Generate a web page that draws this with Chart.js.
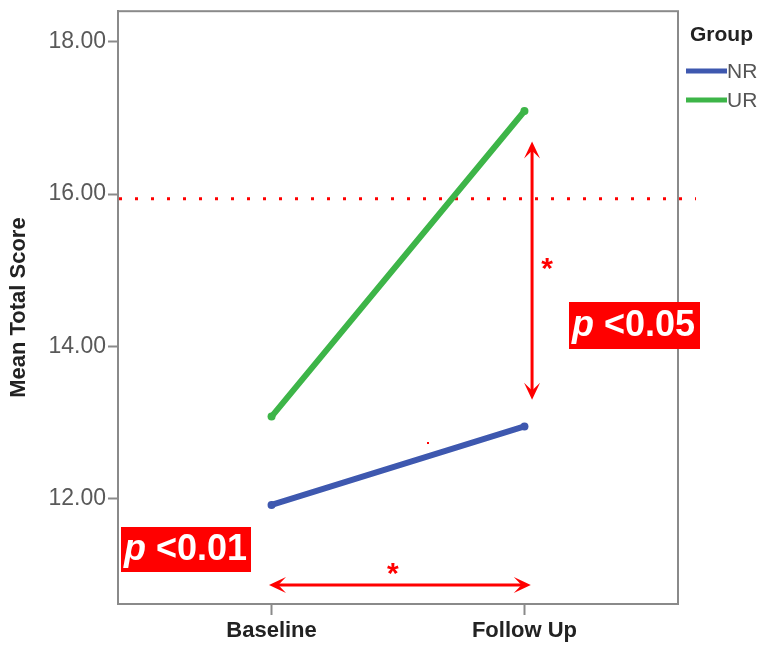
<!DOCTYPE html>
<html>
<head>
<meta charset="utf-8">
<script src="https://cdn.jsdelivr.net/npm/chart.js@4"></script>
<style>
  html, body { margin: 0; padding: 0; background: #fff; }
  canvas { display: block; }
</style>
</head>
<body>
<canvas id="chart" width="764" height="647"></canvas>
<script>
// data
const timepoints = ['Baseline', 'Follow Up']
const groups = ['NR', 'UR']
const nr_values = [11.92, 12.95]
const ur_values = [13.08, 17.09]
const y_ticks = [12, 14, 16, 18]
const cutoff = 15.94

const colors = {NR: 'rgb(62,88,175)', UR: 'rgb(61,181,72)'}
const FONT = '"Liberation Sans", Arial, sans-serif'

function toPoints(vals) {
    return vals.map((v, i) => ({x: i, y: v}))
}

function arrowHead(ctx, x, y, dx, dy) {
    // tip at (x,y), pointing in direction (dx,dy)
    const len = 17, half = 8
    const bx = x - dx*len, by = y - dy*len
    ctx.beginPath()
    ctx.moveTo(x, y)
    ctx.lineTo(bx - dy*half, by + dx*half)
    ctx.lineTo(x - dx*len*0.55, y - dy*len*0.55)
    ctx.lineTo(bx + dy*half, by - dx*half)
    ctx.closePath()
    ctx.fill()
}

function pBox(ctx, x, y, w, h, txt) {
    ctx.fillStyle = 'rgb(255,0,0)'
    ctx.fillRect(x, y, w, h)
    ctx.fillStyle = '#fff'
    ctx.textBaseline = 'middle'
    ctx.textAlign = 'left'
    ctx.font = 'italic bold 36px ' + FONT
    const pw = ctx.measureText('p').width
    ctx.fillText('p', x + 3, y + h/2 + 1)
    ctx.font = 'bold 36px ' + FONT
    ctx.fillText(' ' + txt, x + 3 + pw, y + h/2 + 1)
}

const extras = {
    id: 'extras',
    beforeDatasetsDraw(chart) {
        const ctx = chart.ctx
        const y = chart.scales.y
        const a = chart.chartArea
        // red dotted cut-off line
        ctx.save()
        ctx.strokeStyle = 'rgb(255,0,0)'
        ctx.lineWidth = 3
        ctx.setLineDash([3, 13])
        ctx.beginPath()
        ctx.moveTo(a.left + 1, y.getPixelForValue(cutoff))
        ctx.lineTo(a.right + 18, y.getPixelForValue(cutoff))
        ctx.stroke()
        ctx.restore()
    },
    afterDraw(chart) {
        const ctx = chart.ctx
        const x = chart.scales.x, y = chart.scales.y
        const a = chart.chartArea
        ctx.save()
        // frame
        ctx.strokeStyle = '#8a8a8a'
        ctx.lineWidth = 2
        ctx.strokeRect(a.left, a.top, a.right - a.left, a.bottom - a.top)

        // vertical arrow between groups at follow up
        ctx.strokeStyle = 'rgb(255,0,0)'
        ctx.fillStyle = 'rgb(255,0,0)'
        ctx.lineWidth = 3
        const vx = x.getPixelForValue(1.03)
        const vt = y.getPixelForValue(16.69), vb = y.getPixelForValue(13.30)
        ctx.beginPath()
        ctx.moveTo(vx, vt + 8)
        ctx.lineTo(vx, vb - 8)
        ctx.stroke()
        arrowHead(ctx, vx, vt, 0, -1)
        arrowHead(ctx, vx, vb, 0, 1)

        // horizontal arrow between timepoints
        const hy = y.getPixelForValue(10.87)
        const hl = x.getPixelForValue(-0.01), hr = x.getPixelForValue(1.025)
        ctx.beginPath()
        ctx.moveTo(hl + 8, hy)
        ctx.lineTo(hr - 8, hy)
        ctx.stroke()
        arrowHead(ctx, hl, hy, -1, 0)
        arrowHead(ctx, hr, hy, 1, 0)

        // asterisks
        ctx.font = 'bold 30px ' + FONT
        ctx.textAlign = 'center'
        ctx.textBaseline = 'middle'
        ctx.fillText('*', vx + 15, 270)
        ctx.fillText('*', x.getPixelForValue(0.48), hy - 10)

        // stray dot
        ctx.fillRect(427, 442, 2, 2)

        // p-value boxes
        pBox(ctx, 569, 302, 131, 47, '<0.05')
        pBox(ctx, 121, 527, 130, 45, '<0.01')

        // legend
        ctx.textAlign = 'left'
        ctx.textBaseline = 'middle'
        ctx.fillStyle = '#222'
        ctx.font = 'bold 21px ' + FONT
        ctx.fillText('Group', 690, 35)
        groups.forEach((g, i) => {
            const ly = 71 + i*29
            ctx.strokeStyle = colors[g]
            ctx.lineWidth = 5
            ctx.beginPath()
            ctx.moveTo(686, ly)
            ctx.lineTo(727, ly)
            ctx.stroke()
            ctx.fillStyle = '#555'
            ctx.font = '21px ' + FONT
            ctx.fillText(g, 727, ly + 1)
        })
        ctx.restore()
    }
}

const ctx = document.getElementById('chart').getContext('2d')
const chart = new Chart(ctx, {
    type: 'line',
    data: {
        datasets: [
            {label: 'NR', data: toPoints(nr_values)},
            {label: 'UR', data: toPoints(ur_values)}
        ].map(d => ({
            ...d,
            borderColor: colors[d.label],
            backgroundColor: colors[d.label],
            borderWidth: 6,
            borderCapStyle: 'round',
            pointRadius: 4,
            pointBorderWidth: 0,
            tension: 0
        }))
    },
    options: {
        responsive: false,
        devicePixelRatio: 1,
        animation: false,
        layout: {padding: {left: 0, right: 86, top: 10, bottom: 0}},
        plugins: {legend: {display: false}, tooltip: {enabled: false}},
        scales: {
            x: {
                type: 'linear',
                min: -0.607,
                max: 1.607,
                afterBuildTicks: s => { s.ticks = timepoints.map((t, i) => ({value: i})) },
                afterFit: s => { s.height = 43 },
                ticks: {
                    callback: v => timepoints[v],
                    color: '#222',
                    font: {family: FONT, size: 22, weight: 'bold'},
                    padding: 3,
                    maxRotation: 0
                },
                grid: {drawOnChartArea: false, drawTicks: true, tickLength: 11, color: '#8a8a8a', tickWidth: 2},
                border: {display: true, color: '#8a8a8a', width: 2}
            },
            y: {
                min: 10.62,
                max: 18.40,
                afterBuildTicks: s => { s.ticks = y_ticks.map(v => ({value: v})) },
                afterFit: s => { s.width = 118 },
                ticks: {
                    callback: v => v.toFixed(2),
                    color: '#595959',
                    font: {family: FONT, size: 23, lineHeight: 0.8},
                    padding: 2
                },
                grid: {drawOnChartArea: false, drawTicks: true, tickLength: 10, color: '#8a8a8a', tickWidth: 2},
                border: {display: true, color: '#8a8a8a', width: 2},
                title: {
                    display: true,
                    text: 'Mean Total Score',
                    color: '#222',
                    font: {family: FONT, size: 22, weight: 'bold'},
                    padding: {top: 6, bottom: 0}
                }
            }
        }
    },
    plugins: [extras]
})
</script>
</body>
</html>
